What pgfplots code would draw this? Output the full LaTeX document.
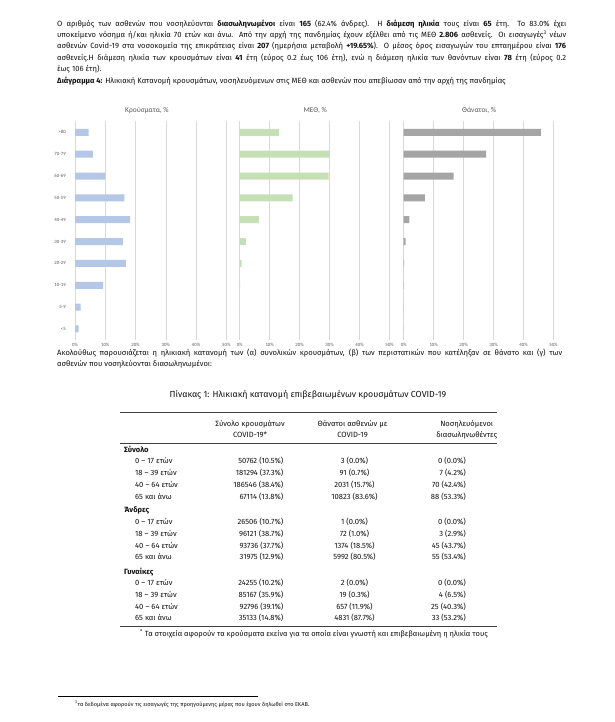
\documentclass[border=0pt]{standalone}
\usepackage{pgfplots}
\pgfplotsset{compat=1.18}
\usepackage{fontspec}
\setmainfont{Fira Sans}
\newfontfamily\chartfont{Carlito}
\definecolor{barblue}{HTML}{B4C7E7}
\definecolor{bargreen}{HTML}{C5E0B4}
\definecolor{bargray}{HTML}{A5A5A5}
\definecolor{lab}{HTML}{595959}
\definecolor{gridc}{HTML}{D9D9D9}
\definecolor{txt}{HTML}{111111}
\definecolor{rule}{HTML}{404040}
\pgfplotsset{agechart/.style={
  scale only axis, width=149.8pt, height=218.5pt, anchor=south west,
  xmin=0, xmax=50, ymin=0.5, ymax=10.5,
  xbar, bar width=7pt,
  axis line style={draw=none}, major tick style={draw=none},
  xmajorgrids, grid style={gridc, line width=0.5pt},
  xtick={0,10,20,30,40,50},
  xticklabels={0\%,10\%,20\%,30\%,40\%,50\%},
  ytick={1,...,10},
  tick label style={font=\chartfont\fontsize{4.8}{5}\selectfont, text=lab},
  /pgf/number format/assume math mode=true,
  clip=false,
}}
\newcommand\para[2]{\node[anchor=base west] at (57,#1) {\makebox[509pt][s]{#2}};}
\newcommand\trow[5]{%
  \node[anchor=base west] at (135,#1) {#2};
  \node[anchor=base east] at (283.5,#1) {#3};
  \node[anchor=base] at (354.5,#1) {#4};
  \node[anchor=base east] at (466,#1) {#5};}
\newcommand\tgrp[2]{\node[anchor=base west] at (124,#1) {\bfseries #2};}
\begin{document}
\begin{tikzpicture}
\path[fill=white] (0,0) rectangle (614pt,-722pt);

% ---- charts ----
\begin{axis}[agechart, at={(75pt,-339.9pt)}, width=151.3pt,
  yticklabels={<5,5-9,10-19,20-29,30-39,40-49,50-59,60-69,70-79,>80},
  yticklabel style={xshift=-1.5pt}]
\addplot[draw=none, fill=barblue] coordinates {
 (1.2,1) (1.9,2) (9.3,3) (16.8,4) (15.8,5) (18.2,6) (16.3,7) (10.0,8) (5.9,9) (4.5,10)};
\end{axis}
\begin{axis}[agechart, at={(239.7pt,-339.9pt)}, yticklabels={}]
\addplot[draw=none, fill=bargreen] coordinates {
 (0,1) (0,2) (0.1,3) (0.6,4) (2.1,5) (6.4,6) (17.7,7) (29.7,8) (30.0,9) (13.1,10)};
\end{axis}
\begin{axis}[agechart, at={(403.7pt,-339.9pt)}, yticklabels={}]
\addplot[draw=none, fill=bargray] coordinates {
 (0,1) (0,2) (0.05,3) (0.1,4) (0.6,5) (1.9,6) (7.1,7) (16.7,8) (27.5,9) (45.8,10)};
\end{axis}

\begin{scope}[x=1pt, y=-1pt, every node/.style={inner sep=0pt, text=txt, font=\fontsize{7.6}{9}\selectfont}]
% chart titles
\node[font=\chartfont\fontsize{7.4}{8}\selectfont, text=lab] at (147,110.7) {Κρούσματα, \%};
\node[font=\chartfont\fontsize{7.4}{8}\selectfont, text=lab] at (315.3,110.7) {ΜΕΘ, \%};
\node[font=\chartfont\fontsize{7.4}{8}\selectfont, text=lab] at (479.2,110.7) {Θάνατοι, \%};

% paragraph
\para{26.3}{Ο αριθμός των ασθενών που νοσηλεύονται \textbf{διασωληνωμένοι} είναι \textbf{165} (62.4\% άνδρες).\ \ Η \textbf{διάμεση ηλικία} τους είναι \textbf{65} έτη.\ \ Το 83.0\% έχει}
\para{37.6}{υποκείμενο νόσημα ή/και ηλικία 70 ετών και άνω. Από την αρχή της πανδημίας έχουν εξέλθει από τις ΜΕΘ \textbf{2.806} ασθενείς. Οι εισαγωγές\textsuperscript{3} νέων}
\para{49}{ασθενών Covid-19 στα νοσοκομεία της επικράτειας είναι \textbf{207} (ημερήσια μεταβολή \textbf{+19.65\%}). Ο μέσος όρος εισαγωγών του επταημέρου είναι \textbf{176}}
\para{60.6}{ασθενείς.Η διάμεση ηλικία των κρουσμάτων είναι \textbf{41} έτη (εύρος 0.2 έως 106 έτη), ενώ η διάμεση ηλικία των θανόντων είναι \textbf{78} έτη (εύρος 0.2}
\node[anchor=base west] at (57,71.6) {έως 106 έτη).};
\node[anchor=base west] at (57,83.3) {\textbf{Διάγραμμα 4:} Ηλικιακή Κατανομή κρουσμάτων, νοσηλευόμενων στις ΜΕΘ και ασθενών που απεβίωσαν από την αρχή της πανδημίας};

\node[anchor=base west] at (57,355) {\makebox[505pt][s]{Ακολούθως παρουσιάζεται η ηλικιακή κατανομή των (α) συνολικών κρουσμάτων, (β) των περιστατικών που κατέληξαν σε θάνατο και (γ) των}};
\node[anchor=base west] at (57,366.5) {ασθενών που νοσηλεύονται διασωληνωμένοι:};

% table
\node[anchor=base, font=\fontsize{8.8}{10}\selectfont] at (308,397) {Πίνακας 1: Ηλικιακή κατανομή επιβεβαιωμένων κρουσμάτων COVID-19};
\draw[rule, line width=1.2pt] (120,412.5) -- (497,412.5);
\node[anchor=base] at (250,426.5) {Σύνολο κρουσμάτων};
\node[anchor=base] at (250,437) {COVID-19*};
\node[anchor=base] at (352.5,426.5) {Θάνατοι ασθενών με};
\node[anchor=base] at (352.5,437) {COVID-19};
\node[anchor=base] at (466.7,426.5) {Νοσηλευόμενοι};
\node[anchor=base] at (466.7,437) {διασωληνωθέντες};
\draw[rule, line width=0.7pt] (120,443) -- (497,443);

\tgrp{452.5}{Σύνολο}
\trow{463.8}{0 – 17 ετών}{50762 (10.5\%)}{3 (0.0\%)}{0 (0.0\%)}
\trow{475.6}{18 – 39 ετών}{181294 (37.3\%)}{91 (0.7\%)}{7 (4.2\%)}
\trow{487.4}{40 – 64 ετών}{186546 (38.4\%)}{2031 (15.7\%)}{70 (42.4\%)}
\trow{499.2}{65 και άνω}{67114 (13.8\%)}{10823 (83.6\%)}{88 (53.3\%)}
\tgrp{512.5}{Άνδρες}
\trow{524.8}{0 – 17 ετών}{26506 (10.7\%)}{1 (0.0\%)}{0 (0.0\%)}
\trow{536.5}{18 – 39 ετών}{96121 (38.7\%)}{72 (1.0\%)}{3 (2.9\%)}
\trow{548.5}{40 – 64 ετών}{93736 (37.7\%)}{1374 (18.5\%)}{45 (43.7\%)}
\trow{559.2}{65 και άνω}{31975 (12.9\%)}{5992 (80.5\%)}{55 (53.4\%)}
\tgrp{574.2}{Γυναίκες}
\trow{585.8}{0 – 17 ετών}{24255 (10.2\%)}{2 (0.0\%)}{0 (0.0\%)}
\trow{597.8}{18 – 39 ετών}{85167 (35.9\%)}{19 (0.3\%)}{4 (6.5\%)}
\trow{609.5}{40 – 64 ετών}{92796 (39.1\%)}{657 (11.9\%)}{25 (40.3\%)}
\trow{620.8}{65 και άνω}{35133 (14.8\%)}{4831 (87.7\%)}{33 (53.2\%)}
\draw[rule, line width=1.2pt] (120,626.7) -- (497,626.7);
\node[anchor=base east, font=\fontsize{7.5}{9}\selectfont] at (488,636.5) {\textsuperscript{*} Τα στοιχεία αφορούν τα κρούσματα εκείνα για τα οποία είναι γνωστή και επιβεβαιωμένη η ηλικία τους};

% page footnote
\draw[black, line width=0.5pt] (58,696) -- (258,696);
\node[anchor=base west, font=\fontsize{5.6}{6}\selectfont] at (75,706) {\textsuperscript{3}τα δεδομένα αφορούν τις εισαγωγές της προηγούμενης μέρας που έχουν δηλωθεί στο ΕΚΑΒ.};
\end{scope}
\end{tikzpicture}
\end{document}
